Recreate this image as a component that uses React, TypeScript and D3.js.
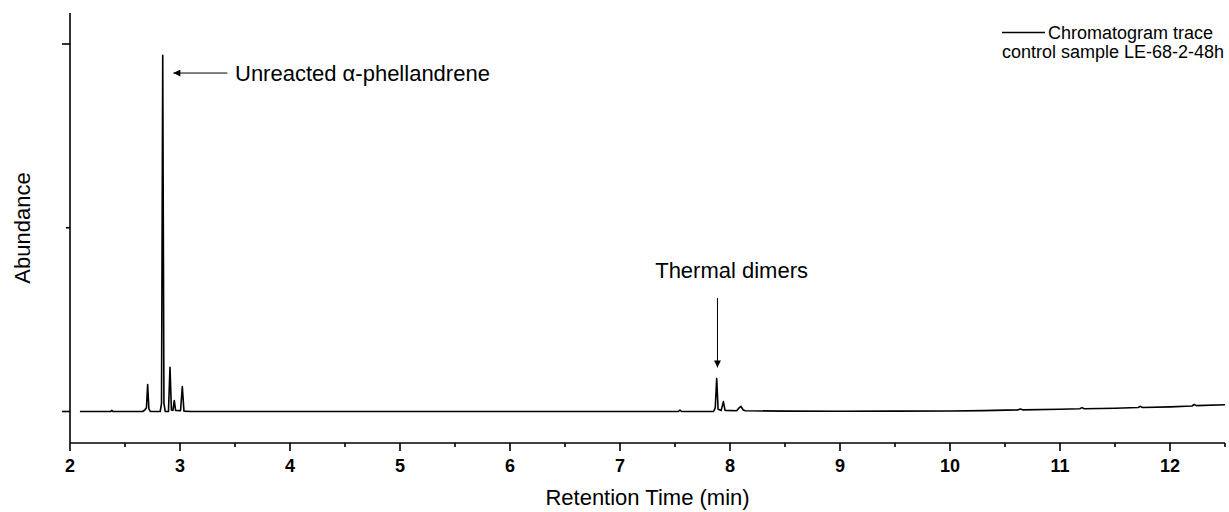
import React from "react";
import * as d3 from "d3";

// Chromatogram trace: [retention time (min), abundance (relative)]
const traceTimes = [
  2.09, 2.37, 2.38, 2.39, 2.66, 2.68, 2.695, 2.706, 2.717, 2.73,
  2.82, 2.832, 2.843, 2.854, 2.866, 2.895, 2.909, 2.922, 2.936, 2.948,
  2.96, 3.005, 3.021, 3.036, 3.1, 4.0, 5.0, 6.0, 7.0, 7.53,
  7.545, 7.56, 7.85, 7.866, 7.879, 7.892, 7.92, 7.94, 7.955, 8.06,
  8.08, 8.1, 8.12, 8.14, 8.5, 9.0, 9.5, 10.0, 10.3, 10.62,
  10.64, 10.66, 11.0, 11.18, 11.2, 11.22, 11.5, 11.71, 11.73, 11.75,
  12.0, 12.2, 12.22, 12.24, 12.5,
];
const traceValues = [
  0.0, 0.0, 0.003, 0.0, 0.0, 0.004, 0.01, 0.073, 0.008, 0.0,
  0.0, 0.022, 0.969, 0.022, 0.0, 0.0, 0.12, 0.004, 0.003, 0.03,
  0.003, 0.002, 0.068, 0.001, 0.0, 0.0, 0.0, 0.0, 0.0, 0.0,
  0.004, 0.0, 0.0, 0.01, 0.09, 0.006, 0.003, 0.027, 0.003, 0.002,
  0.009, 0.014, 0.004, 0.002, 0.001, 0.0008, 0.001, 0.0015, 0.0025, 0.0045,
  0.0065, 0.0045, 0.006, 0.0075, 0.0105, 0.0075, 0.009, 0.011, 0.014, 0.011,
  0.0125, 0.015, 0.019, 0.016, 0.0185,
];

const xTicks = [2, 3, 4, 5, 6, 7, 8, 9, 10, 11, 12];
const xMinorTicks = [2.5, 3.5, 4.5, 5.5, 6.5, 7.5, 8.5, 9.5, 10.5, 11.5, 12.5];
const yTicks = [0, 1];
const yMinorTicks = [0.5];

const xLabel = "Retention Time (min)";
const yLabel = "Abundance";
const legendLines = ["Chromatogram trace", "control sample LE-68-2-48h"];
const annotPeak = "Unreacted α-phellandrene";
const annotDimer = "Thermal dimers";

const FONT = "Arial, 'Liberation Sans', sans-serif";

export default function App() {
  const W = 1229;
  const H = 512;
  const left = 70;
  const right = 1225;
  const top = 13;
  const bottom = 443;

  const x = d3.scaleLinear().domain([2, 12.5]).range([left, right]);
  const y = d3.scaleLinear().domain([0, 1]).range([411.5, 44]);

  const data = traceTimes.map((t, i) => [t, traceValues[i]] as [number, number]);
  const line = d3
    .line<[number, number]>()
    .x((d) => x(d[0]))
    .y((d) => y(d[1]));

  // annotation anchors (data coords)
  const a1Tip = { t: 2.94, v: 0.921 };
  const a1Tail = { t: 3.43, v: 0.921 };
  const a1Text = { t: 3.5, v: 0.90 };
  const a2x = 7.886;
  const a2Top = 0.309;
  const a2Tip = 0.12;
  const a2Text = { t: 7.32, v: 0.363 };

  return (
    <svg width={W} height={H} style={{ position: "absolute", left: 0, top: 0, background: "#fff" }}>
      <defs>
        <marker id="arr" viewBox="0 0 10 10" refX="10" refY="5" markerWidth="10" markerHeight="7" markerUnits="userSpaceOnUse" orient="auto">
          <path d="M0,0 L10,5 L0,10 Z" fill="#000" />
        </marker>
      </defs>

      {/* trace */}
      <path d={line(data) || ""} fill="none" stroke="#000" strokeWidth={1.6} strokeLinejoin="round" />

      {/* axes */}
      <line x1={left} x2={right} y1={bottom} y2={bottom} stroke="#000" strokeWidth={1.6} />
      <line x1={left} x2={left} y1={top} y2={bottom} stroke="#000" strokeWidth={1.6} />

      {xTicks.map((t) => (
        <g key={"xt" + t}>
          <line x1={x(t)} x2={x(t)} y1={bottom} y2={bottom + 8} stroke="#000" strokeWidth={1.6} />
          <text x={x(t)} y={472} textAnchor="middle" fontFamily={FONT} fontWeight="bold" fontSize={18}>
            {t}
          </text>
        </g>
      ))}
      {xMinorTicks.map((t) => (
        <line key={"xm" + t} x1={x(t)} x2={x(t)} y1={bottom} y2={bottom + 4} stroke="#000" strokeWidth={1.6} />
      ))}
      {yTicks.map((v) => (
        <line key={"yt" + v} x1={left - 8} x2={left} y1={y(v)} y2={y(v)} stroke="#000" strokeWidth={1.6} />
      ))}
      {yMinorTicks.map((v) => (
        <line key={"ym" + v} x1={left - 4} x2={left} y1={y(v)} y2={y(v)} stroke="#000" strokeWidth={1.6} />
      ))}

      {/* axis titles */}
      <text x={(left + right) / 2} y={505} textAnchor="middle" fontFamily={FONT} fontSize={22}>
        {xLabel}
      </text>
      <text transform={`translate(30, ${(top + bottom) / 2}) rotate(-90)`} textAnchor="middle" fontFamily={FONT} fontSize={22}>
        {yLabel}
      </text>

      {/* annotations */}
      <line x1={x(a1Tail.t)} x2={x(a1Tip.t)} y1={y(a1Tail.v)} y2={y(a1Tip.v)} stroke="#000" strokeWidth={1} markerEnd="url(#arr)" />
      <text x={x(a1Text.t)} y={y(a1Text.v)} fontFamily={FONT} fontSize={22}>
        {annotPeak}
      </text>
      <line x1={x(a2x)} x2={x(a2x)} y1={y(a2Top)} y2={y(a2Tip)} stroke="#000" strokeWidth={1} markerEnd="url(#arr)" />
      <text x={x(a2Text.t)} y={y(a2Text.v)} fontFamily={FONT} fontSize={22}>
        {annotDimer}
      </text>

      {/* legend */}
      <line x1={1002} x2={1045} y1={32.5} y2={32.5} stroke="#000" strokeWidth={1.5} />
      <text x={1048} y={39} fontFamily={FONT} fontSize={18}>
        {legendLines[0]}
      </text>
      <text x={1002} y={58} fontFamily={FONT} fontSize={18}>
        {legendLines[1]}
      </text>
    </svg>
  );
}
